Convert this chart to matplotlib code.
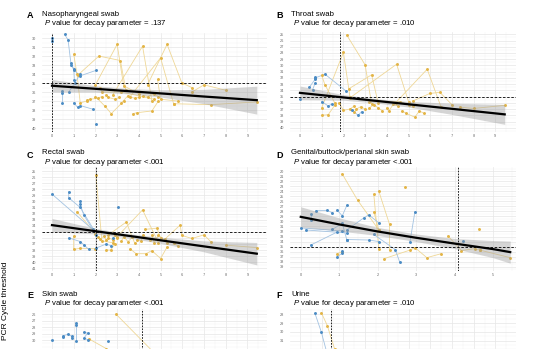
import matplotlib
matplotlib.use("Agg")
import matplotlib.pyplot as plt
from matplotlib.ticker import MultipleLocator

W, H = 534, 349

plt.rcParams['font.family'] = ['Liberation Sans', 'DejaVu Sans']
plt.rcParams['mathtext.fontset'] = 'custom'
plt.rcParams['mathtext.it'] = 'Liberation Sans:italic'
plt.rcParams['mathtext.rm'] = 'Liberation Sans'

BLUE = '#4a8bc4'
YELLOW = '#e3b445'
BLUE_LINE = '#a3c3e2'
YELLOW_LINE = '#efd796'

# ---- data (days since onset, Ct value), one list per patient ----
a_blue = [
    [(0.0, 30.0), (0.0, 30.3)],
    [(0.58, 29.6), (0.74, 30.2), (0.87, 32.8), (1.0, 33.4), (1.03, 34.7)],
    [(0.46, 35.9), (0.46, 36.1), (0.46, 37.2)],
    [(0.77, 36.0), (1.05, 35.0), (1.3, 34.0)],
    [(0.87, 33.0), (1.03, 33.6), (1.3, 34.2), (2.02, 33.6)],
    [(1.0, 37.2), (1.18, 37.7), (1.3, 37.5), (1.87, 37.9)],
    [(2.02, 39.6)],
]
a_yellow = [
    [(1.0, 31.8), (1.15, 34.0), (1.3, 37.2), (1.6, 37.0)],
    [(1.2, 34.1), (2.16, 32.0), (3.15, 32.5), (3.4, 35.8)],
    [(2.0, 35.2), (3.0, 30.7), (3.3, 35.3), (4.0, 36.2)],
    [(2.8, 36.3), (4.17, 30.9), (4.6, 37.0)],
    [(3.6, 36.5), (5.0, 32.2), (5.6, 37.3)],
    [(4.4, 35.2), (5.3, 30.7), (5.98, 35.0), (6.44, 35.5)],
    [(4.86, 34.6), (5.0, 36.8), (5.8, 37.0)],
    [(6.44, 36.0), (7.0, 35.2), (8.0, 35.8)],
    [(5.6, 37.3), (7.3, 37.4), (9.43, 37.1)],
    [(2.0, 36.5), (2.45, 37.6), (2.73, 38.4), (3.3, 37.0)],
    [(3.73, 38.4), (3.9, 38.3), (4.6, 38.1), (4.9, 37.0)],
    [(1.6, 36.9), (1.75, 36.8), (2.1, 36.7), (2.3, 36.5)],
    [(2.5, 36.3), (2.6, 36.6), (2.9, 36.8), (3.1, 36.6)],
    [(3.2, 37.2), (3.5, 36.4), (3.8, 36.7), (4.0, 36.6)],
    [(4.2, 36.4), (4.4, 36.5), (4.7, 36.2), (4.9, 36.5)],
    [(2.2, 35.5), (2.3, 36.0), (3.2, 36.0), (4.7, 36.8)],
]
a_fit_x = [0, 2, 3.5, 5, 7, 9.43]
a_fit_y = [35.3, 35.64, 35.9, 36.15, 36.5, 36.9]
a_band_lo = [34.6, 35.3, 35.6, 35.75, 35.7, 35.35]
a_band_hi = [36.0, 36.0, 36.2, 36.55, 37.3, 38.45]

b_blue = [
    [(0.0, 35.4)],
    [(0.43, 33.5), (0.7, 32.2), (0.7, 31.9)],
    [(0.58, 33.9), (0.7, 32.8)],
    [(0.7, 32.0), (1.15, 31.4), (2.12, 34.1)],
    [(1.0, 35.8), (1.3, 36.5), (1.46, 36.2)],
    [(2.4, 37.2), (2.68, 38.0), (2.84, 37.4)],
]
b_yellow = [
    [(1.0, 31.6), (1.15, 33.1), (1.6, 36.0)],
    [(2.15, 25.1), (3.0, 29.9), (3.3, 36.2)],
    [(1.0, 36.8), (2.0, 27.9), (2.3, 35.0)],
    [(2.27, 33.7), (3.3, 31.5), (3.6, 36.0)],
    [(2.3, 35.2), (4.45, 29.8), (5.0, 35.8)],
    [(4.4, 36.0), (5.86, 30.6), (6.5, 36.7)],
    [(5.2, 35.7), (5.98, 34.5), (6.44, 34.3), (7.0, 36.3)],
    [(7.36, 36.7), (8.0, 36.9), (9.43, 36.4)],
    [(1.0, 38.0), (1.3, 37.9), (1.6, 36.4)],
    [(1.8, 36.0), (2.0, 37.2), (2.3, 37.0), (2.5, 36.5)],
    [(2.5, 37.5), (2.6, 37.0), (2.8, 36.6), (3.0, 37.0)],
    [(3.2, 36.8), (3.4, 36.3), (3.6, 36.8), (3.8, 37.3)],
    [(4.0, 36.8), (4.1, 37.3), (4.3, 36.2), (4.5, 36.5)],
    [(4.7, 37.3), (4.9, 37.7), (5.29, 38.3), (5.5, 37.3), (5.72, 37.7)],
    [(3.2, 35.8), (4.6, 35.8), (5.0, 36.3), (5.2, 36.5)],
]
b_fit_x = [0, 2, 3.5, 5, 7, 9.43]
b_fit_y = [34.4, 35.13, 35.68, 36.23, 36.96, 37.85]
b_band_lo = [33.3, 34.68, 35.33, 35.78, 36.06, 36.25]
b_band_hi = [35.5, 35.58, 36.03, 36.68, 37.86, 39.45]

c_blue = [
    [(0.0, 28.8), (1.9, 34.7)],
    [(0.77, 28.4), (0.77, 29.4), (1.3, 31.0), (1.9, 34.5)],
    [(1.3, 30.0), (1.3, 30.5), (1.46, 32.2), (2.02, 35.5)],
    [(3.02, 30.9)],
    [(0.77, 36.0), (1.3, 36.6), (1.46, 37.1), (1.69, 37.9)],
    [(2.02, 37.7), (2.5, 37.0), (2.71, 37.3)],
    [(2.8, 36.0)],
]
c_yellow = [
    [(2.02, 25.7), (2.3, 36.5), (2.8, 36.8)],
    [(1.15, 31.7), (2.0, 35.3)],
    [(1.0, 35.7), (1.0, 37.9), (1.3, 37.7), (2.0, 37.8)],
    [(2.6, 35.5), (3.42, 33.4), (3.8, 36.8)],
    [(3.0, 35.8), (4.17, 31.4), (4.9, 36.8)],
    [(4.3, 34.6), (4.83, 34.4), (5.0, 36.0)],
    [(5.2, 36.2), (5.9, 33.9), (5.98, 35.6), (6.44, 36.1), (7.0, 35.5), (7.3, 36.6)],
    [(8.0, 37.2), (9.43, 37.6)],
    [(3.6, 37.8), (3.87, 38.6), (4.33, 38.6), (4.6, 38.1), (5.0, 39.4), (5.3, 37.5)],
    [(2.1, 35.8), (2.2, 36.2), (2.4, 35.7), (2.5, 36.4)],
    [(2.6, 36.0), (2.8, 36.3), (2.9, 35.5), (3.0, 36.1)],
    [(3.2, 36.5), (3.3, 35.8), (3.5, 36.6), (3.7, 35.9)],
    [(3.9, 36.3), (4.1, 36.5), (4.2, 35.6), (4.5, 36.3)],
    [(4.6, 35.6), (4.7, 36.8), (4.9, 35.6), (5.3, 36.8)],
    [(5.6, 36.9), (5.8, 37.3)],
    [(2.5, 38.0), (2.7, 38.0), (2.9, 37.0)],
]
c_fit_x = [0, 2, 3.5, 5, 7, 9.43]
c_fit_y = [33.9, 34.9, 35.65, 36.4, 37.4, 38.6]
c_band_lo = [32.8, 34.45, 35.3, 35.9, 36.5, 36.75]
c_band_hi = [35.0, 35.35, 36.0, 36.9, 38.3, 40.45]

d_blue = [
    [(0.0, 31.3), (1.08, 31.9)],
    [(0.13, 31.7), (1.2, 32.3)],
    [(0.26, 28.6), (0.26, 29.7)],
    [(0.39, 27.9), (0.69, 27.8), (0.82, 28.3)],
    [(0.26, 34.7), (0.95, 32.1)],
    [(0.82, 31.6), (1.08, 30.4), (1.2, 33.7)],
    [(0.95, 27.8), (1.08, 28.9), (1.2, 26.8)],
    [(0.95, 37.0), (1.08, 36.3), (1.08, 35.9)],
    [(1.2, 31.7), (1.64, 29.3), (1.77, 28.7), (2.03, 30.3)],
    [(1.2, 33.6), (1.77, 33.7), (2.03, 34.0)],
    [(1.9, 32.6), (2.46, 35.6), (2.57, 38.0)],
    [(2.84, 34.1), (2.97, 28.1)],
    [(4.22, 33.8)],
]
d_yellow = [
    [(1.08, 20.6), (1.48, 25.8), (2.03, 31.7)],
    [(1.9, 24.6), (2.03, 35.4)],
    [(2.03, 24.0), (2.31, 30.6), (2.31, 35.6)],
    [(1.9, 28.1), (2.03, 31.7)],
    [(2.72, 23.1)],
    [(0.95, 36.4), (1.08, 36.0)],
    [(2.17, 37.4), (2.84, 35.7), (2.97, 35.2), (3.28, 37.2), (3.66, 36.4)],
    [(3.83, 32.9), (4.18, 35.8), (4.53, 35.4), (4.66, 35.7)],
    [(4.64, 31.6)],
    [(4.66, 35.7), (5.45, 37.2)],
]
d_fit_x = [0, 1, 2, 3, 4, 5, 5.45]
d_fit_y = [29.1, 30.6, 32.0, 33.25, 34.4, 35.5, 36.1]
d_band_lo = [27.1, 29.3, 31.2, 32.5, 33.4, 33.8, 33.9]
d_band_hi = [31.1, 31.9, 32.8, 34.0, 35.4, 37.2, 38.3]

e_blue = [
    [(0.0, 29.9)],
    [(0.52, 29.5), (0.52, 29.3), (0.75, 29.1), (0.9, 29.4), (0.9, 29.7)],
    [(1.1, 27.4), (1.1, 27.7), (1.1, 30.1)],
    [(1.47, 28.8), (1.64, 28.9), (1.47, 29.7), (1.64, 29.9)],
    [(2.6, 30.1)],
]
e_yellow = [
    [(2.95, 26.0), (4.6, 31.6)],
    [(1.7, 29.8), (2.5, 31.3)],
]

f_blue = [[(0.69, 27.9), (0.98, 30.0), (1.25, 32.5)]]
f_yellow = [[(0.98, 27.8), (1.26, 29.3), (1.6, 32.0)]]

titles = ["Nasopharyngeal swab", "Throat swab", "Rectal swab",
          "Genital/buttock/perianal skin swab", "Skin swab", "Urine"]
pvals = ["= .137", "= .010", "<.001", "<.001", "<.001", "= .010"]
letters = ["A", "B", "C", "D", "E", "F"]

fig = plt.figure(figsize=(W / 100, H / 100), dpi=100)
fig.patch.set_facecolor('white')


def frac(l, t, r, b):
    return [l / W, 1 - b / H, (r - l) / W, (b - t) / H]


def panel(box, xlim, ylim, xmax_tick, yticks, blue, yellow, vline, fit=None,
          xlabels=True):
    ax = fig.add_axes(frac(*box))
    ax.set_xlim(*xlim)
    ax.set_ylim(*ylim)
    for s in ax.spines.values():
        s.set_visible(False)
    ax.xaxis.set_minor_locator(MultipleLocator(0.5))
    ax.yaxis.set_minor_locator(MultipleLocator(0.5))
    ax.set_xticks(range(0, xmax_tick + 1))
    ax.set_yticks(yticks)
    if not xlabels:
        ax.set_xticklabels([])
    ax.grid(True, which='major', color='#e6e6e6', lw=0.5)
    ax.grid(True, which='minor', color='#f2f2f2', lw=0.3)
    ax.set_axisbelow(True)
    ax.tick_params(which='both', length=0, labelsize=2.8, colors='#666666')
    ax.tick_params(axis='y', pad=4)
    ax.tick_params(axis='x', pad=1.5)

    for group, lc, pc in ((yellow, YELLOW_LINE, YELLOW), (blue, BLUE_LINE, BLUE)):
        for traj in group:
            xs = [p[0] for p in traj]
            ys = [p[1] for p in traj]
            if len(traj) > 1:
                ax.plot(xs, ys, color=lc, lw=0.6, zorder=2)
            ax.scatter(xs, ys, s=4.5, color=pc, lw=0, zorder=3)

    if fit is not None:
        fx, fy, lo, hi = fit
        ax.fill_between(fx, lo, hi, color='#9a9a9a', alpha=0.4, lw=0, zorder=4)
        ax.plot(fx, fy, color='black', lw=1.6, zorder=5)

    ax.axhline(35, color='black', lw=0.6, ls=(0, (3, 2)), zorder=6)
    ax.axvline(vline, color='black', lw=0.6, ls=(0, (2, 1.5)), zorder=6)
    return ax


panel((42, 33, 267, 132), (-0.46, 9.9), (40.44, 29.44), 9, range(30, 41),
      a_blue, a_yellow, 0.0, (a_fit_x, a_fit_y, a_band_lo, a_band_hi))
panel((290, 32, 516, 132), (-0.46, 9.95), (40.68, 24.63), 9, range(25, 41),
      b_blue, b_yellow, 1.84, (b_fit_x, b_fit_y, b_band_lo, b_band_hi))
panel((42, 167, 267, 271), (-0.46, 9.9), (41.45, 24.34), 9, range(25, 42),
      c_blue, c_yellow, 2.02, (c_fit_x, c_fit_y, c_band_lo, c_band_hi))
panel((290, 167, 516, 271), (-0.28, 5.6), (39.85, 19.2), 5, range(20, 40),
      d_blue, d_yellow, 4.08, (d_fit_x, d_fit_y, d_band_lo, d_band_hi))
# bottom row continues past the lower edge of the picture
panel((42, 309, 267, 409), (-0.46, 9.9), (40.6, 25.2), 9, range(26, 31),
      e_blue, e_yellow, 4.13, xlabels=False)
panel((290, 309, 516, 409), (-0.46, 9.95), (38.8, 27.4), 9, range(28, 32),
      f_blue, f_yellow, 1.44, xlabels=False)

rows = [16, 155, 296]
for i in range(6):
    r = i // 2
    c = i % 2
    x0 = 27 if c == 0 else 276
    ly = rows[r]
    fig.text(x0 / W, 1 - ly / H, letters[i], fontsize=6.5, fontweight='bold',
             ha='left', va='center')
    fig.text((x0 + 15) / W, 1 - (ly - 2) / H, titles[i], fontsize=5.6,
             ha='left', va='center')
    fig.text((x0 + 17) / W, 1 - (ly + 7.5) / H,
             r"$\it{P}$ value for decay parameter " + pvals[i], fontsize=5.6,
             ha='left', va='center')

fig.text(6 / W, 1 - 301 / H, "PCR Cycle threshold", rotation=90, fontsize=6,
         ha='center', va='center')

fig.savefig("out.png", dpi=100)
